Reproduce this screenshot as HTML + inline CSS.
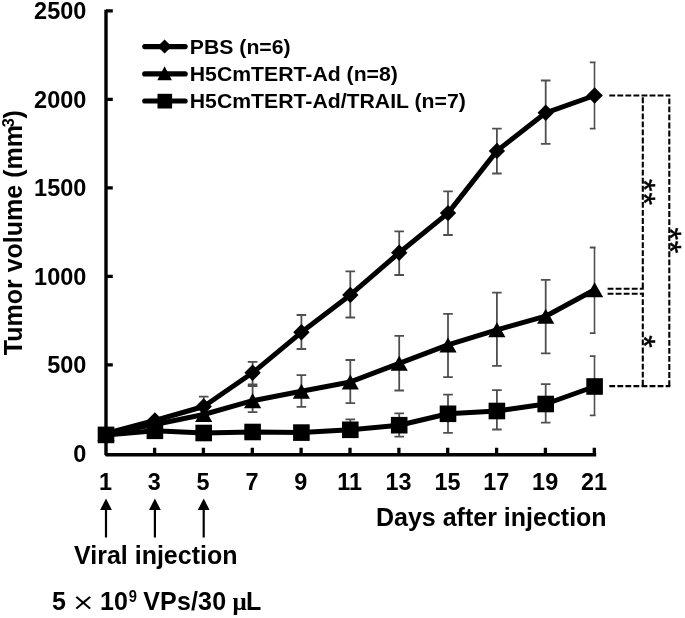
<!DOCTYPE html><html><head><meta charset="utf-8"><title>Tumor volume</title><style>html,body{margin:0;padding:0;background:#fff}svg{display:block}</style></head><body><svg width="685" height="618" viewBox="0 0 685 618"><rect width="685" height="618" fill="#fff"/><defs><clipPath id="plot"><rect x="100" y="0" width="495.6" height="460"/></clipPath><filter id="soft" x="0" y="0" width="685" height="618" filterUnits="userSpaceOnUse"><feGaussianBlur stdDeviation="0.45"/></filter></defs><g filter="url(#soft)">
<path d="M203.7 396.7V416.0M198.9 396.7H208.5M198.9 416.0H208.5M252.6 361.9V386.0M247.8 361.9H257.4M247.8 386.0H257.4M301.4 315.0V349.0M296.6 315.0H306.2M296.6 349.0H306.2M350.3 271.4V317.5M345.5 271.4H355.1M345.5 317.5H355.1M399.2 231.3V275.0M394.4 231.3H404.0M394.4 275.0H404.0M448.0 191.3V235.0M443.2 191.3H452.8M443.2 235.0H452.8M496.9 128.6V173.5M492.1 128.6H501.7M492.1 173.5H501.7M545.7 80.5V143.9M540.9 80.5H550.5M540.9 143.9H550.5M594.6 62.3V128.6M589.8 62.3H599.4M589.8 128.6H599.4" stroke="#505050" stroke-width="1.8" fill="none" clip-path="url(#plot)"/>
<path d="M252.6 384.5V412.1M247.8 384.5H257.4M247.8 412.1H257.4M301.4 375.2V406.8M296.6 375.2H306.2M296.6 406.8H306.2M350.3 360.0V403.2M345.5 360.0H355.1M345.5 403.2H355.1M399.2 335.9V390.5M394.4 335.9H404.0M394.4 390.5H404.0M448.0 313.8V377.2M443.2 313.8H452.8M443.2 377.2H452.8M496.9 292.6V365.9M492.1 292.6H501.7M492.1 365.9H501.7M545.7 279.8V353.3M540.9 279.8H550.5M540.9 353.3H550.5M594.6 247.5V333.2M589.8 247.5H599.4M589.8 333.2H599.4" stroke="#505050" stroke-width="1.8" fill="none" clip-path="url(#plot)"/>
<path d="M350.3 419.4V437.0M345.5 419.4H355.1M345.5 437.0H355.1M399.2 413.3V436.7M394.4 413.3H404.0M394.4 436.7H404.0M448.0 394.7V432.8M443.2 394.7H452.8M443.2 432.8H452.8M496.9 390.2V429.5M492.1 390.2H501.7M492.1 429.5H501.7M545.7 384.1V422.7M540.9 384.1H550.5M540.9 422.7H550.5M594.6 356.2V415.4M589.8 356.2H599.4M589.8 415.4H599.4" stroke="#505050" stroke-width="1.8" fill="none" clip-path="url(#plot)"/>
<path d="M106 9.8V454.7H596.2" stroke="#000" stroke-width="3.4" fill="none" stroke-linejoin="bevel"/>
<path d="M106 10.9h6.8M106 99.4h6.8M106 187.9h6.8M106 276.4h6.8M106 364.9h6.8M154.6 454v-6.3M203.4 454v-6.3M252.3 454v-6.3M301.1 454v-6.3M350.0 454v-6.3M398.9 454v-6.3M447.7 454v-6.3M496.6 454v-6.3M545.4 454v-6.3M594.3 454v-6.3" stroke="#000" stroke-width="3.3" fill="none"/>
<polyline points="106.0,433.5 154.9,420.5 203.7,406.5 252.6,372.8 301.4,332.3 350.3,294.9 399.2,252.7 448.0,213.1 496.9,150.9 545.7,112.8 594.6,95.5" fill="none" stroke="#000" stroke-width="5" stroke-linejoin="round" stroke-linecap="round"/><polyline points="106.0,433.5 154.9,424.5 203.7,414.5 252.6,400.7 301.4,391.3 350.3,382.0 399.2,363.3 448.0,344.9 496.9,329.8 545.7,316.2 594.6,289.7" fill="none" stroke="#000" stroke-width="5" stroke-linejoin="round" stroke-linecap="round"/><polyline points="106.0,434.9 154.9,430.8 203.7,433.0 252.6,432.0 301.4,432.6 350.3,429.8 399.2,425.2 448.0,413.8 496.9,411.0 545.7,404.0 594.6,386.5" fill="none" stroke="#000" stroke-width="5" stroke-linejoin="round" stroke-linecap="round"/>
<g fill="#000"><path d="M106.0 425.3L114.2 433.5L106.0 441.7L97.8 433.5Z"/><path d="M154.9 412.3L163.1 420.5L154.9 428.7L146.7 420.5Z"/><path d="M203.7 398.3L211.9 406.5L203.7 414.7L195.5 406.5Z"/><path d="M252.6 364.6L260.8 372.8L252.6 381.0L244.4 372.8Z"/><path d="M301.4 324.1L309.6 332.3L301.4 340.5L293.2 332.3Z"/><path d="M350.3 286.7L358.5 294.9L350.3 303.1L342.1 294.9Z"/><path d="M399.2 244.5L407.4 252.7L399.2 260.9L391.0 252.7Z"/><path d="M448.0 204.9L456.2 213.1L448.0 221.3L439.8 213.1Z"/><path d="M496.9 142.7L505.1 150.9L496.9 159.1L488.7 150.9Z"/><path d="M545.7 104.6L553.9 112.8L545.7 121.0L537.5 112.8Z"/><path d="M594.6 87.3L602.8 95.5L594.6 103.7L586.4 95.5Z"/><path d="M106.0 426.0L114.6 441.0H97.4Z"/><path d="M154.9 417.0L163.5 432.0H146.3Z"/><path d="M203.7 407.0L212.3 422.0H195.1Z"/><path d="M252.6 393.2L261.2 408.2H244.0Z"/><path d="M301.4 383.8L310.0 398.8H292.8Z"/><path d="M350.3 374.5L358.9 389.5H341.7Z"/><path d="M399.2 355.8L407.8 370.8H390.6Z"/><path d="M448.0 337.4L456.6 352.4H439.4Z"/><path d="M496.9 322.3L505.5 337.3H488.3Z"/><path d="M545.7 308.7L554.3 323.7H537.1Z"/><path d="M594.6 282.2L603.2 297.2H586.0Z"/><rect x="97.7" y="426.6" width="16.6" height="16.6"/><rect x="146.6" y="422.5" width="16.6" height="16.6"/><rect x="195.4" y="424.7" width="16.6" height="16.6"/><rect x="244.3" y="423.7" width="16.6" height="16.6"/><rect x="293.1" y="424.3" width="16.6" height="16.6"/><rect x="342.0" y="421.5" width="16.6" height="16.6"/><rect x="390.9" y="416.9" width="16.6" height="16.6"/><rect x="439.7" y="405.5" width="16.6" height="16.6"/><rect x="488.6" y="402.7" width="16.6" height="16.6"/><rect x="537.4" y="395.7" width="16.6" height="16.6"/><rect x="586.3" y="378.2" width="16.6" height="16.6"/></g>
<path d="M144.7 46.6H185.2" stroke="#000" stroke-width="5.1" stroke-linecap="round"/>
<path d="M144.7 73.9H185.2" stroke="#000" stroke-width="5.1" stroke-linecap="round"/>
<path d="M144.7 101H185.2" stroke="#000" stroke-width="5.1" stroke-linecap="round"/>
<g fill="#000"><path d="M164.6 39.4L171.7 46.5L164.6 53.6L157.5 46.5Z"/><path d="M164.6 66.3L171.9 80.2H157.3Z"/><rect x="157.5" y="93.8" width="14.6" height="14.7"/></g>
<g stroke="#000" stroke-width="2.1" fill="none" stroke-dasharray="5.85 2.2"><path d="M609.3 95.5H670.3"/><path d="M609.3 386.1H670.3"/><path d="M607.6 288.7H643.8"/><path d="M607.6 293.7H643.8"/><path d="M669.3 95.5V386.1" stroke-dashoffset="-2.9"/><path d="M642.8 95.5V289.5" stroke-dashoffset="-1.8"/><path d="M642.8 292.8V386.1" stroke-dashoffset="1.6"/></g>
<path d="M106.0 537.5V507" stroke="#000" stroke-width="2.2"/><path d="M106.0 498.6L111.9 510H100.1Z" fill="#000"/>
<path d="M154.9 537.5V507" stroke="#000" stroke-width="2.2"/><path d="M154.9 498.6L160.8 510H149.0Z" fill="#000"/>
<path d="M203.7 537.5V507" stroke="#000" stroke-width="2.2"/><path d="M203.7 498.6L209.6 510H197.8Z" fill="#000"/>
<g font-family="'Liberation Sans',Arial,sans-serif" font-weight="bold" fill="#000"><text transform="translate(86.4 19.3) scale(1.0 1)" font-size="23.5" text-anchor="end">2500</text><text transform="translate(86.4 107.8) scale(1.0 1)" font-size="23.5" text-anchor="end">2000</text><text transform="translate(86.4 196.3) scale(1.0 1)" font-size="23.5" text-anchor="end">1500</text><text transform="translate(86.4 284.8) scale(1.0 1)" font-size="23.5" text-anchor="end">1000</text><text transform="translate(86.4 373.3) scale(1.0 1)" font-size="23.5" text-anchor="end">500</text><text transform="translate(86.4 461.8) scale(1.0 1)" font-size="23.5" text-anchor="end">0</text><text transform="translate(105.4 489.9) scale(1.0 1)" font-size="23.4" text-anchor="middle">1</text><text transform="translate(154.26000000000002 489.9) scale(1.0 1)" font-size="23.4" text-anchor="middle">3</text><text transform="translate(203.12 489.9) scale(1.0 1)" font-size="23.4" text-anchor="middle">5</text><text transform="translate(251.98 489.9) scale(1.0 1)" font-size="23.4" text-anchor="middle">7</text><text transform="translate(300.84 489.9) scale(1.0 1)" font-size="23.4" text-anchor="middle">9</text><text transform="translate(349.7 489.9) scale(1.0 1)" font-size="23.4" text-anchor="middle">11</text><text transform="translate(398.55999999999995 489.9) scale(1.0 1)" font-size="23.4" text-anchor="middle">13</text><text transform="translate(447.41999999999996 489.9) scale(1.0 1)" font-size="23.4" text-anchor="middle">15</text><text transform="translate(496.28 489.9) scale(1.0 1)" font-size="23.4" text-anchor="middle">17</text><text transform="translate(545.14 489.9) scale(1.0 1)" font-size="23.4" text-anchor="middle">19</text><text transform="translate(594.0 489.9) scale(1.0 1)" font-size="23.4" text-anchor="middle">21</text><text transform="translate(189.8 53.7) scale(1.072 1)" font-size="19.8" text-anchor="start">PBS (n=6)</text><text transform="translate(189.8 80.8) scale(1.072 1)" font-size="19.8" text-anchor="start">H5CmTERT-Ad (n=8)</text><text transform="translate(189.8 108.1) scale(1.072 1)" font-size="19.8" text-anchor="start">H5CmTERT-Ad/TRAIL (n=7)</text><text transform="translate(376 526) scale(1.0 1)" font-size="25" text-anchor="start">Days after injection</text><text transform="translate(74 564.3) scale(1.0 1)" font-size="25" text-anchor="start">Viral injection</text><text transform="translate(83.2 610.3) scale(1.15 1)" text-anchor="middle" font-family="'DejaVu Sans',sans-serif" font-weight="normal" font-size="23.8">×</text><text transform="translate(128.7 601.9) scale(0.9 1)" font-size="16.4">9</text><text font-size="25" y="609.7"><tspan x="51.9">5</tspan><tspan x="100.1">10</tspan><tspan x="143.3" letter-spacing="0.15">VPs/30</tspan><tspan x="232.6" font-family="'Liberation Serif',serif" font-size="25">μ</tspan><tspan x="246">L</tspan></text><text transform="translate(22.4 355.2) rotate(-90)" font-size="25">Tumor volume (mm<tspan font-size="16.2" dy="-8.2" dx="-2.1">3</tspan><tspan dy="8.2" dx="-0.4">)</tspan></text><text transform="translate(632.6 179.0) rotate(90)" font-size="32" font-weight="normal" stroke="#000" stroke-width="0.5">*</text><text transform="translate(632.6 192.4) rotate(90)" font-size="32" font-weight="normal" stroke="#000" stroke-width="0.5">*</text><text transform="translate(659.2 227.6) rotate(90)" font-size="32" font-weight="normal" stroke="#000" stroke-width="0.5">*</text><text transform="translate(659.2 240.7) rotate(90)" font-size="32" font-weight="normal" stroke="#000" stroke-width="0.5">*</text><text transform="translate(632.6 335.3) rotate(90)" font-size="32" font-weight="normal" stroke="#000" stroke-width="0.5">*</text></g></g></svg></body></html>
